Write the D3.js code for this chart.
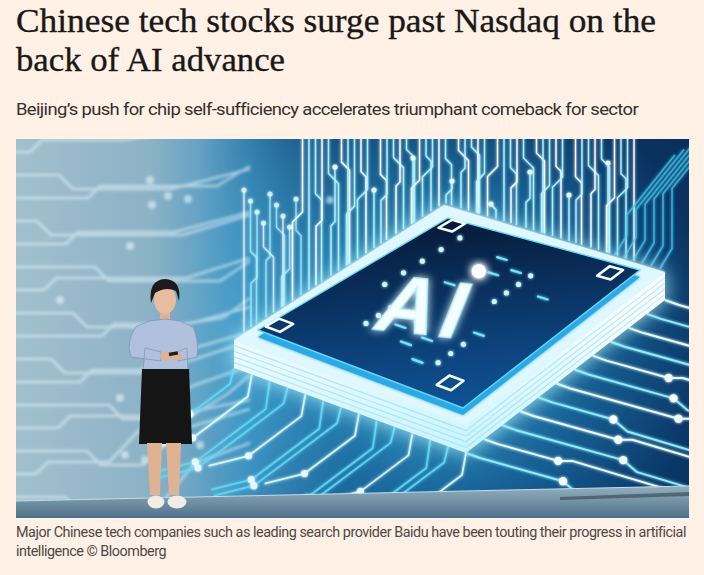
<!DOCTYPE html>
<html>
<head>
<meta charset="utf-8">
<script src="https://cdn.jsdelivr.net/npm/d3@7"></script>
<style>
  html, body { margin: 0; padding: 0; background: #fff1e5; }
  svg { display: block; }
</style>
</head>
<body>
<svg id="page" width="704" height="575"></svg>
<script>
// ---- text content ----
const titleLines = ["Chinese tech stocks surge past Nasdaq on the", "back of AI advance"];
const standfirst = "Beijing\u2019s push for chip self-sufficiency accelerates triumphant comeback for sector";
const captionLines = [
  "Major Chinese tech companies such as leading search provider Baidu have been touting their progress in artificial",
  "intelligence \u00a9 Bloomberg"
];
const chipLabel = "AI";

// ---- layout ----
const frame = {x: 16, y: 139, w: 673, h: 379};
const titleWidths = [640, 269];
const captionWidths = [670, 150];

const svg = d3.select("#page");
const defs = svg.append("defs");

function glow(id, sd) {
  const f = defs.append("filter").attr("id", id)
    .attr("x", "-50%").attr("y", "-50%").attr("width", "200%").attr("height", "200%");
  f.append("feGaussianBlur").attr("stdDeviation", sd).attr("result", "b");
  const m = f.append("feMerge");
  m.append("feMergeNode").attr("in", "b");
  m.append("feMergeNode").attr("in", "SourceGraphic");
}
glow("glow", 1.6);
glow("glowBig", 4);
defs.append("filter").attr("id", "soft").append("feGaussianBlur").attr("stdDeviation", 1.4);
defs.append("filter").attr("id", "halo")
  .attr("x", "-50%").attr("y", "-50%").attr("width", "200%").attr("height", "200%")
  .append("feGaussianBlur").attr("stdDeviation", 10);

function linGrad(id, x1, y1, x2, y2, stops) {
  const g = defs.append("linearGradient").attr("id", id)
    .attr("gradientUnits", "userSpaceOnUse")
    .attr("x1", x1).attr("y1", y1).attr("x2", x2).attr("y2", y2);
  stops.forEach(s => g.append("stop").attr("offset", s[0]).attr("stop-color", s[1])
    .attr("stop-opacity", s[2] == null ? 1 : s[2]));
}
linGrad("bg", 16, 0, 689, 0, [[0, "#a2bfce"], [0.2, "#8cb2c6"], [0.34, "#4194c2"],
  [0.5, "#13548c"], [0.8, "#0b4078"], [1, "#0a3768"]]);
linGrad("bgTop", 0, 139, 0, 520, [[0, "#08284f", 0.45], [0.45, "#08284f", 0], [1, "#08284f", 0.1]]);
linGrad("fadeX", 200, 0, 330, 0, [[0, "#000"], [1, "#fff"]]);
linGrad("face", 448, 218, 463, 408, [[0, "#061a38"], [0.55, "#0b3a6e"], [1, "#0f5497"]]);
linGrad("floor", 0, 488, 0, 518, [[0, "#8eabba"], [0.5, "#6e8fa2"], [1, "#4f7088"]]);
linGrad("slabSide", 0, 300, 0, 455, [[0, "#ffffff"], [1, "#c8f3ff"]]);

const rg = defs.append("radialGradient").attr("id", "chipGlow")
  .attr("gradientUnits", "userSpaceOnUse").attr("cx", 440).attr("cy", 330).attr("r", 270);
rg.append("stop").attr("offset", 0).attr("stop-color", "#6fe6ff").attr("stop-opacity", 0.75);
rg.append("stop").attr("offset", 0.6).attr("stop-color", "#3cc4f0").attr("stop-opacity", 0.25);
rg.append("stop").attr("offset", 1).attr("stop-color", "#3cc4f0").attr("stop-opacity", 0);

defs.append("mask").attr("id", "fadeMask").append("rect")
  .attr("x", 0).attr("y", 0).attr("width", 704).attr("height", 575).attr("fill", "url(#fadeX)");

defs.append("clipPath").attr("id", "frameClip").append("rect")
  .attr("x", frame.x).attr("y", frame.y).attr("width", frame.w).attr("height", frame.h);

// ---- text ----
svg.selectAll("text.title").data(titleLines).join("text")
  .attr("class", "title")
  .attr("x", 16).attr("y", (d, i) => 32 + i * 38.5)
  .attr("textLength", (d, i) => titleWidths[i]).attr("lengthAdjust", "spacingAndGlyphs")
  .style("font-family", "'Liberation Serif', 'Times New Roman', serif")
  .style("font-size", "34px").style("fill", "#1a1817")
  .style("stroke", "#1a1817").style("stroke-width", "0.35px")
  .text(d => d);

svg.append("text")
  .attr("x", 16).attr("y", 115)
  .attr("textLength", 622).attr("lengthAdjust", "spacingAndGlyphs")
  .style("font-family", "Roboto, 'Noto Sans', sans-serif")
  .style("font-size", "17px").style("letter-spacing", "-0.6px").style("fill", "#33302e")
  .text(standfirst);

svg.selectAll("text.caption").data(captionLines).join("text")
  .attr("class", "caption")
  .attr("x", 16).attr("y", (d, i) => 537 + i * 19)
  .attr("textLength", (d, i) => captionWidths[i]).attr("lengthAdjust", "spacingAndGlyphs")
  .style("font-family", "Roboto, 'Noto Sans', sans-serif")
  .style("font-size", "14px").style("letter-spacing", "-0.45px").style("fill", "#4d4845")
  .text(d => d);

// ---- photo ----
const photo = svg.append("g").attr("clip-path", "url(#frameClip)");
photo.append("rect").attr("x", frame.x).attr("y", frame.y)
  .attr("width", frame.w).attr("height", frame.h).attr("fill", "url(#bg)");
photo.append("rect").attr("x", frame.x).attr("y", frame.y)
  .attr("width", frame.w).attr("height", frame.h).attr("fill", "url(#bgTop)")
  .attr("mask", "url(#fadeMask)");
photo.append("circle").attr("cx", 440).attr("cy", 330).attr("r", 270).attr("fill", "url(#chipGlow)");

const line = d3.line();

// pale blurred traces on the left of the screen
const pale = photo.append("g").attr("filter", "url(#soft)")
  .attr("fill", "none").attr("stroke", "#e4f4fa").attr("stroke-width", 2.6)
  .attr("stroke-linejoin", "round").attr("opacity", 0.6);
d3.range(16).forEach(i => {
  const y0 = 152 + i * 23;
  const x1 = 30 + (i * 29) % 80;
  const j = i % 2 ? 14 : -12;
  const x2 = x1 + 55 + (i * 17) % 55;
  const rise = i < 8 ? 0 : -(i - 7) * 6;
  const pts = [[10, y0], [x1, y0], [x1 + Math.abs(j), y0 + j], [x2, y0 + j],
    [x2 + 40, y0 + j + rise], [250, y0 + j + rise - 20]];
  pale.append("path").attr("d", line(pts));
});
const paleDots = [[150, 180], [168, 196], [188, 199], [152, 205], [130, 246], [60, 300],
  [120, 398], [160, 412], [330, 200], [125, 455], [145, 460], [200, 445]];
pale.selectAll("circle").data(paleDots).join("circle")
  .attr("cx", d => d[0]).attr("cy", d => d[1]).attr("r", 4)
  .attr("fill", "#e8f6fb").attr("stroke", "none");

// slab geometry
const S = {l: [234, 340], t: [444, 205], r: [665, 272], b: [466, 425]};
const depth = 28;
const down = p => [p[0], p[1] + depth];
function edgeY(x) {
  if (x <= S.t[0]) return S.l[1] + (x - S.l[0]) * (S.t[1] - S.l[1]) / (S.t[0] - S.l[0]);
  return S.t[1] + (x - S.t[0]) * (S.r[1] - S.t[1]) / (S.r[0] - S.t[0]);
}

// vertical traces above the chip
const topTr = photo.append("g").attr("fill", "none").attr("filter", "url(#glow)")
  .attr("stroke-linejoin", "round");
const jog = [0, 6, -6, 10, -4, 8, 0, -8, 5, -10];
d3.range(244, 640, 6.5).forEach((x, i) => {
  const dx = jog[i % jog.length];
  const yEnd = edgeY(x + dx) - 2;
  const yTop = x < 290 ? 190 + (i * 11) % 40 : (i % 6 === 2 ? 150 + (i * 13) % 55 : 130);
  const yMid = yTop + (yEnd - yTop) * (0.3 + 0.4 * ((i * 7) % 5) / 5);
  const pts = [[x, yTop], [x, yMid - Math.abs(dx)], [x + dx, yMid], [x + dx, yEnd]];
  const op = x < 300 ? 0.7 : 0.95;
  topTr.append("path").attr("d", line(pts))
    .attr("stroke", i % 3 === 0 ? "#ffffff" : "#b2f4ff")
    .attr("stroke-width", 1.5).attr("opacity", op);
  if (yTop > 130) {
    topTr.append("circle").attr("cx", x).attr("cy", yTop).attr("r", 2.6)
      .attr("fill", "#e8fdff").attr("opacity", op);
  }
});

// diagonal traces, upper right
const urTr = photo.append("g").attr("fill", "none").attr("filter", "url(#glow)")
  .attr("stroke", "#43cdf2").attr("stroke-width", 1.6).attr("opacity", 0.8);
d3.range(0, 6).forEach(i => {
  const x = 615 + i * 9;
  const y = edgeY(x) - 2;
  urTr.append("path").attr("d", line([[x, y], [x + 12, y - 20], [x + 12, y - 40 - i * 8], [x + 60, y - 100 - i * 8]]));
});

// traces to the right of the chip
const rTr = photo.append("g").attr("fill", "none").attr("filter", "url(#glow)")
  .attr("stroke-linejoin", "round");
const rb0 = down(S.r), rb1 = down(S.b);
d3.range(12).forEach(i => {
  const k = i / 11;
  const p = [rb0[0] + k * (rb1[0] - rb0[0]), rb0[1] + k * (rb1[1] - rb0[1])];
  const a = [p[0] + 14, p[1] + 5];
  const bend = a[0] + 40 + (i * 23) % 70;
  const b = [bend, a[1] + (bend - a[0]) * 0.28];
  const c = [b[0] + 14, b[1] + (i % 2 ? 12 : 0)];
  const e = [720, c[1] + (720 - c[0]) * 0.3];
  rTr.append("path").attr("d", line([p, a, b, c, e]))
    .attr("stroke", i % 2 ? "#8cecff" : "#e6fcff").attr("stroke-width", 2);
  rTr.append("circle").attr("cx", b[0]).attr("cy", b[1]).attr("r", 4.2).attr("fill", "#f2feff");
});

// traces below-left of the chip
const blTr = photo.append("g").attr("fill", "none").attr("filter", "url(#glow)")
  .attr("stroke-linejoin", "round");
const lb0 = down(S.l);
d3.range(14).forEach(i => {
  const k = i / 13;
  const p = [lb0[0] + k * (rb1[0] - lb0[0]), lb0[1] + k * (rb1[1] - lb0[1])];
  const a = [p[0] - 4, p[1] + 16 + (i % 3) * 6];
  const len = 50 + (i * 19) % 60;
  const b = [a[0] - len * 0.8, a[1] + len * 0.6];
  blTr.append("path").attr("d", line([p, a, b, [b[0] - 40, b[1] + 10]]))
    .attr("stroke", i % 3 === 1 ? "#dffaff" : "#5fd8f6").attr("stroke-width", 1.8)
    .attr("opacity", 0.9);
  blTr.append("circle").attr("cx", b[0]).attr("cy", b[1]).attr("r", 3.6)
    .attr("fill", "#e9fdff").attr("opacity", 0.9);
});

// ---- chip ----
const chip = photo.append("g");
const slabOutline = [S.l, S.t, S.r, down(S.r), down(S.b), down(S.l)];
chip.append("path").attr("d", line(slabOutline) + "Z")
  .attr("fill", "#aff2ff").attr("filter", "url(#halo)").attr("opacity", 0.9);
chip.append("path").attr("d", line([S.l, S.b, S.r, down(S.r), down(S.b), down(S.l)]) + "Z")
  .attr("fill", "url(#slabSide)");
// layer lines on the slab side
d3.range(1, 5).forEach(j => {
  const o = j * depth / 5;
  chip.append("path")
    .attr("d", line([[S.l[0], S.l[1] + o], [S.b[0], S.b[1] + o], [S.r[0], S.r[1] + o]]))
    .attr("fill", "none").attr("stroke", "#8fdff7").attr("stroke-width", 1.1).attr("opacity", 0.7);
});
chip.append("path").attr("d", line([S.l, S.t, S.r, S.b]) + "Z")
  .attr("fill", "#dff8ff").attr("filter", "url(#glow)");

// dark chip face, bilinear over its four corners
const F = {l: [258, 330], t: [448, 218], r: [640, 270], b: [463, 408]};
function P(s, t) {
  const w = [(1 - s) * (1 - t), s * (1 - t), s * t, (1 - s) * t];
  const c = [F.l, F.t, F.r, F.b];
  return [0, 1].map(d => w[0] * c[0][d] + w[1] * c[1][d] + w[2] * c[2][d] + w[3] * c[3][d]);
}
chip.append("path").attr("d", line([F.l, F.t, F.r, F.b].map(p => [p[0], p[1] + 7])) + "Z")
  .attr("fill", "#2aa9e4").attr("filter", "url(#glow)");
chip.append("path").attr("d", line([F.l, F.t, F.r, F.b]) + "Z")
  .attr("fill", "url(#face)").attr("stroke", "#63d8ff").attr("stroke-width", 1.4);

// corner pads
const pads = [[0.07, 0.04], [0.96, 0.06], [0.94, 0.9], [0.1, 0.85]];
const dp = 0.035;
chip.selectAll("path.pad").data(pads).join("path")
  .attr("class", "pad")
  .attr("d", d => line([P(d[0] - dp, d[1] - dp), P(d[0] + dp, d[1] - dp),
    P(d[0] + dp, d[1] + dp), P(d[0] - dp, d[1] + dp)]) + "Z")
  .attr("fill", "none").attr("stroke", "#f4fdff").attr("stroke-width", 2.6)
  .attr("stroke-linejoin", "round");

// lights on the face
const lights = chip.append("g").attr("filter", "url(#glow)");
const dotRows = [
  {s0: 0.5, s1: 0.9, t: 0.16, n: 5},
  {s0: 0.18, s1: 0.32, t: 0.72, n: 3},
  {s0: 0.25, s1: 0.45, t: 0.3, n: 4},
  {s0: 0.6, s1: 0.8, t: 0.62, n: 4}
];
dotRows.forEach(r => {
  d3.range(r.n).forEach(j => {
    const p = P(r.s0 + (r.s1 - r.s0) * j / (r.n - 1), r.t);
    lights.append("circle").attr("cx", p[0]).attr("cy", p[1]).attr("r", 2.6).attr("fill", "#c8f7ff");
  });
});
const dashes = [[0.3, 0.4], [0.35, 0.45], [0.22, 0.5], [0.28, 0.55], [0.75, 0.45], [0.8, 0.52],
  [0.85, 0.4], [0.7, 0.75], [0.15, 0.62], [0.4, 0.7], [0.62, 0.35]];
dashes.forEach(d => {
  lights.append("path").attr("d", line([P(d[0], d[1]), P(d[0], d[1] + 0.05)]))
    .attr("stroke", "#6fe5ff").attr("stroke-width", 2.2).attr("stroke-linecap", "round");
});
const spot = P(0.68, 0.62);
lights.append("circle").attr("cx", spot[0] - 30).attr("cy", spot[1] - 20).attr("r", 7)
  .attr("fill", "#ffffff").attr("filter", "url(#glowBig)");

// AI letters
chip.append("g").attr("transform", "translate(416,334) rotate(6) skewX(-16)")
  .append("text")
  .attr("text-anchor", "middle")
  .style("font-family", "'Liberation Sans', Arial, sans-serif")
  .style("font-weight", "bold").style("font-size", "80px")
  .style("letter-spacing", "6px")
  .attr("fill", "#f4feff").attr("stroke", "#bff5ff").attr("stroke-width", 1.5)
  .attr("filter", "url(#glowBig)")
  .text(chipLabel);

// ---- stage floor ----
photo.append("path").attr("d", line([[16, 501], [689, 486], [700, 486], [700, 520], [16, 520]]) + "Z")
  .attr("fill", "url(#floor)");
photo.append("path").attr("d", line([[16, 501], [689, 486]]))
  .attr("stroke", "#c6dbe4").attr("stroke-width", 1);
photo.append("path").attr("d", line([[560, 497], [689, 492], [689, 496], [560, 500]]) + "Z")
  .attr("fill", "#2e4456").attr("opacity", 0.6);

// ---- speaker ----
const skin = "#dfb294";
const person = photo.append("g");
person.append("rect").attr("x", 160).attr("y", 308).attr("width", 10).attr("height", 14).attr("fill", skin);
person.append("path")
  .attr("d", "M165,319 L150,321 L137,326 Q130,333 129,348 L131,357 L161,361 L161,352 L145,348 L143,371 L188,371 L187,348 L177,352 L178,361 L197,357 Q199,340 193,327 L180,321 Z")
  .attr("fill", "#b1c0dc").attr("stroke", "#8496bb").attr("stroke-width", 0.8);
person.append("path").attr("d", "M142,369 L189,369 L192,444 L139,444 Z").attr("fill", "#151515");
person.append("path").attr("d", "M147,443 L162,443 L160,495 L150,495 Z").attr("fill", skin);
person.append("path").attr("d", "M166,443 L181,443 L179,495 L169,495 Z").attr("fill", skin);
person.append("ellipse").attr("cx", 156).attr("cy", 502).attr("rx", 8.5).attr("ry", 6.5).attr("fill", "#f1ede6");
person.append("ellipse").attr("cx", 177).attr("cy", 502).attr("rx", 9.5).attr("ry", 6.5).attr("fill", "#f1ede6");
person.append("ellipse").attr("cx", 166).attr("cy", 356).attr("rx", 6).attr("ry", 4.5).attr("fill", skin);
person.append("ellipse").attr("cx", 176).attr("cy", 356).attr("rx", 6).attr("ry", 4.5).attr("fill", skin);
person.append("rect").attr("x", 169).attr("y", 352).attr("width", 9).attr("height", 3.5)
  .attr("fill", "#1e1e1e").attr("transform", "rotate(-10,173,354)");
person.append("ellipse").attr("cx", 165).attr("cy", 300).attr("rx", 11).attr("ry", 14).attr("fill", "#e6bd9e");
person.append("path")
  .attr("d", "M151,303 Q148,280 165,279 Q182,280 179,301 L176,291 Q166,286 155,293 Z")
  .attr("fill", "#1c1a1a");
</script>
</body>
</html>
